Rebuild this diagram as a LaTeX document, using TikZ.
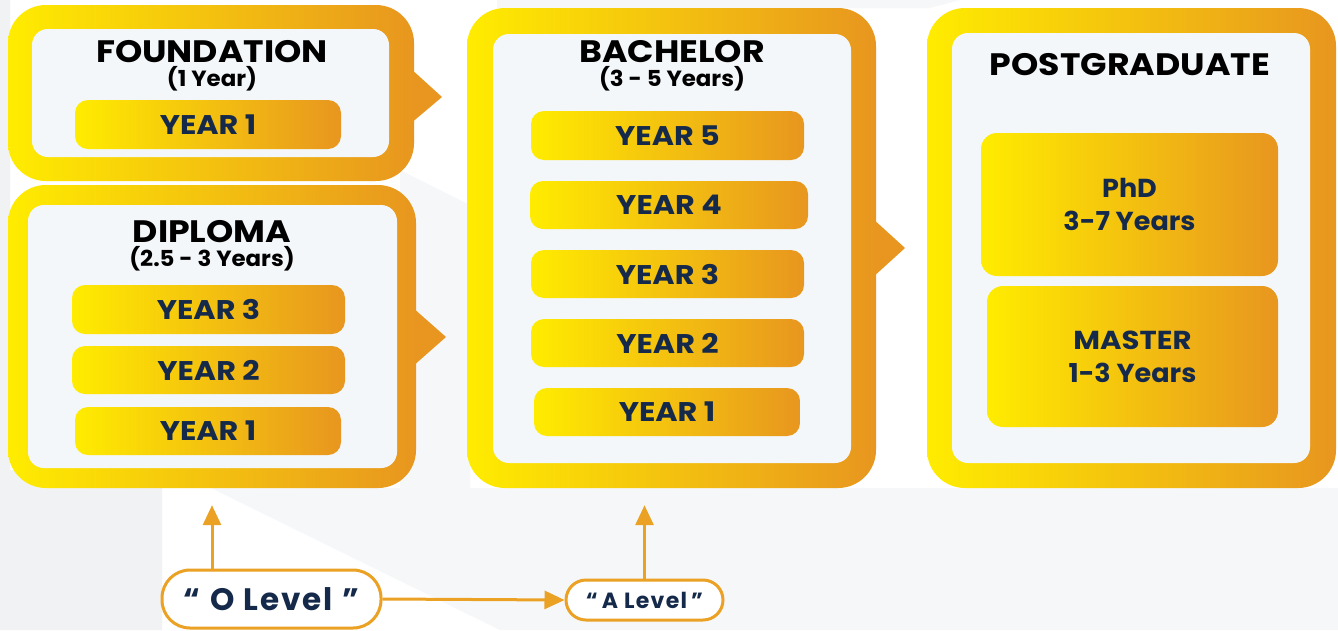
\documentclass[tikz,border=0pt]{standalone}
\usepackage{fontspec}
\setmainfont{Poppins}
\newfontfamily\wfont{Poppins}[FakeStretch=1.12]
\newfontfamily\dfont{Poppins}[FakeStretch=1.04]
\newfontfamily\lfont{Poppins}[LetterSpace=6]
\usetikzlibrary{arrows.meta,calc}
\definecolor{gyel}{HTML}{FFEC00}
\definecolor{gora}{HTML}{E8961F}
\definecolor{panel}{HTML}{F3F7FA}
\definecolor{navy}{HTML}{15294A}
\definecolor{arrc}{HTML}{EBA124}
\definecolor{bgg}{HTML}{F0F2F4}
\definecolor{bgl}{HTML}{F6F7F9}
\tikzset{
  outerbox/.style={left color=gyel, right color=gora, rounded corners=38pt, draw=none, inner sep=0pt},
  innerbox/.style={fill=panel, rounded corners=16pt, draw=none, inner sep=0pt},
  pointer/.style={fill=gora, draw=none},
  yearbox/.style={left color=gyel, right color=gora, rounded corners=13pt, draw=none, inner sep=0pt,
    text=navy, font=\fontsize{27}{29}\wfont\bfseries},
  degbox/.style={left color=gyel, right color=gora, rounded corners=16pt, draw=none, inner sep=0pt,
    text=navy, align=center, font=\fontsize{26}{33}\dfont\bfseries},
  ttl/.style={text=black, font=\fontsize{31}{33}\wfont\bfseries, inner sep=0pt},
  sub/.style={text=black, font=\fontsize{22}{24}\dfont\bfseries, inner sep=0pt},
  pill/.style={draw=arrc, line width=3pt, fill=white, rounded corners=20pt, inner sep=0pt, text=navy},
  arr/.style={draw=arrc, line width=3pt, -{Triangle[length=20pt,width=18pt]}},
}
\begin{document}
\begin{tikzpicture}[x=1pt,y=-1pt]
\useasboundingbox (0,0) rectangle (1338,630);
\fill[white] (0,0) rectangle (1338,630);
% background
\fill[bgl] (211,488) -- (1338,488) -- (1338,630) -- (500,630) -- cycle;
\fill[bgg] (0,0) -- (10,0) -- (10,470) -- (162,470) -- (162,630) -- (0,630) -- cycle;
\fill[bgl] (497,0) -- (960,0) -- (930,8) -- (497,8) -- cycle;
\fill[bgl] (400,170) -- (470,205) -- (470,490) -- (400,490) -- cycle;
% pointers
\fill[pointer] (410,68) -- (442,97) -- (410,124) -- cycle;
\fill[pointer] (412,307) -- (446,337) -- (412,367) -- cycle;
\fill[pointer] (872,218) -- (905,248) -- (872,278) -- cycle;
% outer boxes
\node[outerbox, minimum width=406pt, minimum height=176pt] (found) at (211,93) {};
\node[outerbox, minimum width=408pt, minimum height=303pt] (dipl) at (212,336.5) {};
\node[outerbox, minimum width=409pt, minimum height=480pt] (bach) at (671.5,248) {};
\node[outerbox, minimum width=409pt, minimum height=480pt] (post) at (1131.5,248) {};
% inner panels
\node[innerbox, minimum width=357pt, minimum height=128pt] (foundin) at (210.5,93) {};
\node[innerbox, minimum width=369pt, minimum height=263pt] (diplin) at (212.5,336.5) {};
\node[innerbox, minimum width=358pt, minimum height=429pt] (bachin) at (672,248.5) {};
\node[innerbox, minimum width=358pt, minimum height=430pt] (postin) at (1131,248) {};
% titles
\node[ttl] (ft) at (212,52) {FOUNDATION};
\node[sub] (fs) at (212,79) {(1 Year)};
\node[ttl] (dt) at (212,232) {DIPLOMA};
\node[sub] (ds) at (212,259) {(2.5 - 3 Years)};
\node[ttl] (bt) at (672,52) {BACHELOR};
\node[sub] (bs) at (672,79) {(3 - 5 Years)};
\node[ttl] (pt) at (1130,65) {POSTGRADUATE};
% year boxes
\node[yearbox, minimum width=266pt, minimum height=49pt] (fy1) at (208,124.5) {YEAR 1};
\node[yearbox, minimum width=273pt, minimum height=49pt] (dy3) at (208.5,309.5) {YEAR 3};
\node[yearbox, minimum width=273pt, minimum height=48pt] (dy2) at (208.5,370) {YEAR 2};
\node[yearbox, minimum width=266pt, minimum height=48pt] (dy1) at (208,431) {YEAR 1};
\node[yearbox, minimum width=273pt, minimum height=49pt] (by5) at (667.5,135.5) {YEAR 5};
\node[yearbox, minimum width=278pt, minimum height=48pt] (by4) at (669,205) {YEAR 4};
\node[yearbox, minimum width=273pt, minimum height=48pt] (by3) at (667.5,274) {YEAR 3};
\node[yearbox, minimum width=273pt, minimum height=48pt] (by2) at (667.5,343) {YEAR 2};
\node[yearbox, minimum width=266pt, minimum height=48pt] (by1) at (667,412) {YEAR 1};
\node[degbox, minimum width=297pt, minimum height=143pt] (phd) at (1129.5,204.5) {PhD\\3-7 Years};
\node[degbox, minimum width=291pt, minimum height=141pt] (mas) at (1132.5,356.5) {{\wfont MASTER}\\1-3 Years};
% bottom
\node[pill, rounded corners=28pt, minimum width=219pt, minimum height=58pt,
  font=\fontsize{31}{32}\lfont\bfseries] (olev) at (271.5,599) {“\hspace{10pt}O Level\hspace{10pt}”};
\node[pill, minimum width=157pt, minimum height=40pt,
  font=\fontsize{22}{23}\lfont\bfseries] (alev) at (644.5,600) {“\hspace{4pt}A Level\hspace{4pt}”};
\draw[arr, shorten >=17pt] (olev.north -| dipl.south) -- (dipl.south);
\draw[arr, shorten >=17pt] (alev.north) -- (alev.north |- bach.south);
\draw[arr] (olev.east) -- (alev.west);
\end{tikzpicture}
\end{document}
